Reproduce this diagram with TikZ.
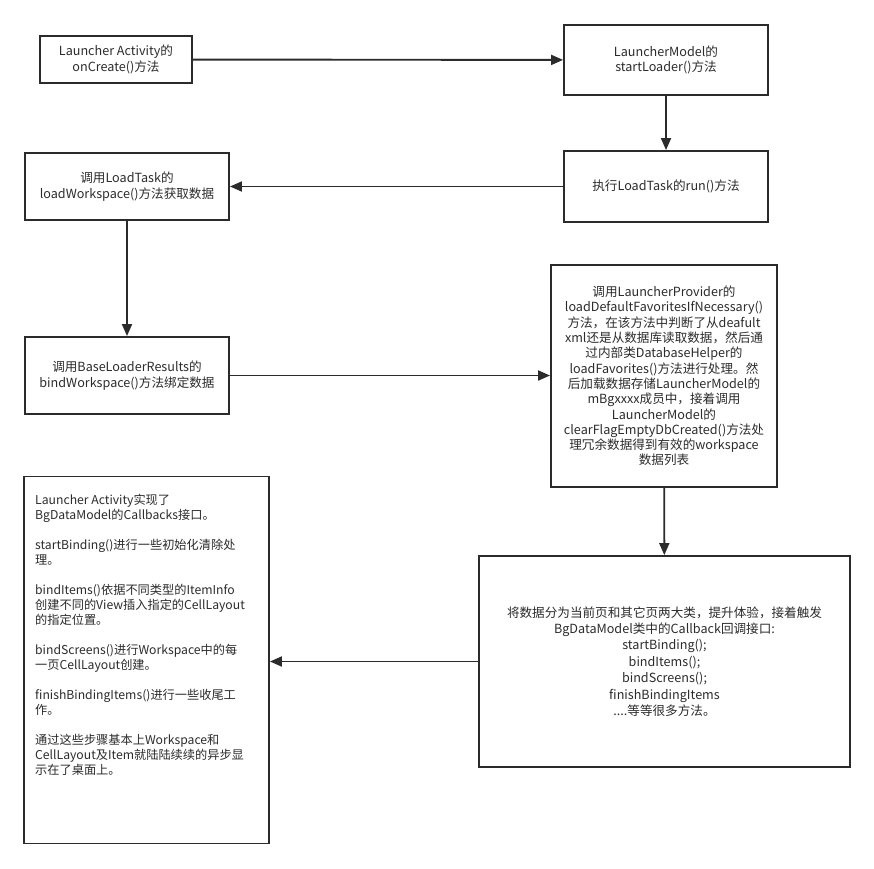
\documentclass[tikz,border=0pt]{standalone}
\usepackage{fontspec}
\setmainfont{Noto Sans CJK SC}
\usetikzlibrary{arrows.meta}
\definecolor{ink}{HTML}{2B2B2B}
\begin{document}
\begin{tikzpicture}[x=1pt,y=-1pt,
  box/.style={draw=ink, line width=1.9pt, inner sep=0pt, align=center, text=ink,
    font=\fontsize{12.6}{15.3}\selectfont},
  conn/.style={draw=ink, line width=1.9pt, -{Triangle[length=12pt,width=10pt]}}]
\useasboundingbox (0,0) rectangle (874,868);
\node[box, minimum width=152pt, minimum height=47pt] (b1) at (116,59.5) {Launcher Activity的\\onCreate()方法};
\node[box, minimum width=204pt, minimum height=70pt] (b2) at (666,60) {LauncherModel的\\startLoader()方法};
\node[box, minimum width=204pt, minimum height=71pt] (b3) at (666,186.5) {执行LoadTask的run()方法};
\node[box, minimum width=204pt, minimum height=67pt] (b4) at (127,186.5) {调用LoadTask的\\loadWorkspace()方法获取数据};
\node[box, minimum width=204pt, minimum height=77pt] (b5) at (127,375.5) {调用BaseLoaderResults的\\bindWorkspace()方法绑定数据};
\node[box, minimum width=226pt, minimum height=222pt] (b6) at (664,376) {调用LauncherProvider的\\loadDefaultFavoritesIfNecessary()\\方法，在该方法中判断了从deafult\\xml还是从数据库读取数据，然后通\\过内部类DatabaseHelper的\\loadFavorites()方法进行处理。然\\后加载数据存储LauncherModel的\\mBgxxxx成员中，接着调用\\LauncherModel的\\clearFlagEmptyDbCreated()方法处\\理冗余数据得到有效的workspace\\数据列表};
\node[box, minimum width=371pt, minimum height=211pt, font=\fontsize{12.6}{16.4}\selectfont] (b7) at (664.5,661.5) {将数据分为当前页和其它页两大类，提升体验，接着触发\\BgDataModel类中的Callback回调接口:\\startBinding();\\bindItems();\\bindScreens();\\finishBindingItems\\....等等很多方法。};
\node[box, minimum width=245pt, minimum height=367pt] (b8) at (146.5,660) {};
\node[anchor=north west, inner sep=0pt, align=left, text=ink, font=\fontsize{12.2}{15}\selectfont] (t8) at (35,494) {Launcher Activity实现了\\BgDataModel的Callbacks接口。\\[15pt]startBinding()进行一些初始化清除处\\理。\\[15pt]bindItems()依据不同类型的ItemInfo\\创建不同的View插入指定的CellLayout\\的指定位置。\\[15pt]bindScreens()进行Workspace中的每\\一页CellLayout创建。\\[15pt]finishBindingItems()进行一些收尾工\\作。\\[15pt]通过这些步骤基本上Workspace和\\CellLayout及Item就陆陆续续的异步显\\示在了桌面上。};
\draw[conn] (b1) -- (b2);
\draw[conn] (b2) -- (b3);
\draw[conn] (b3) -- (b4);
\draw[conn] (b4) -- (b5);
\draw[conn] (b5.east) -- (b5.east -| b6.west);
\draw[conn] (b6) -- (b7);
\draw[conn] (b7.west) -- (b7.west -| b8.east);
\end{tikzpicture}
\end{document}
